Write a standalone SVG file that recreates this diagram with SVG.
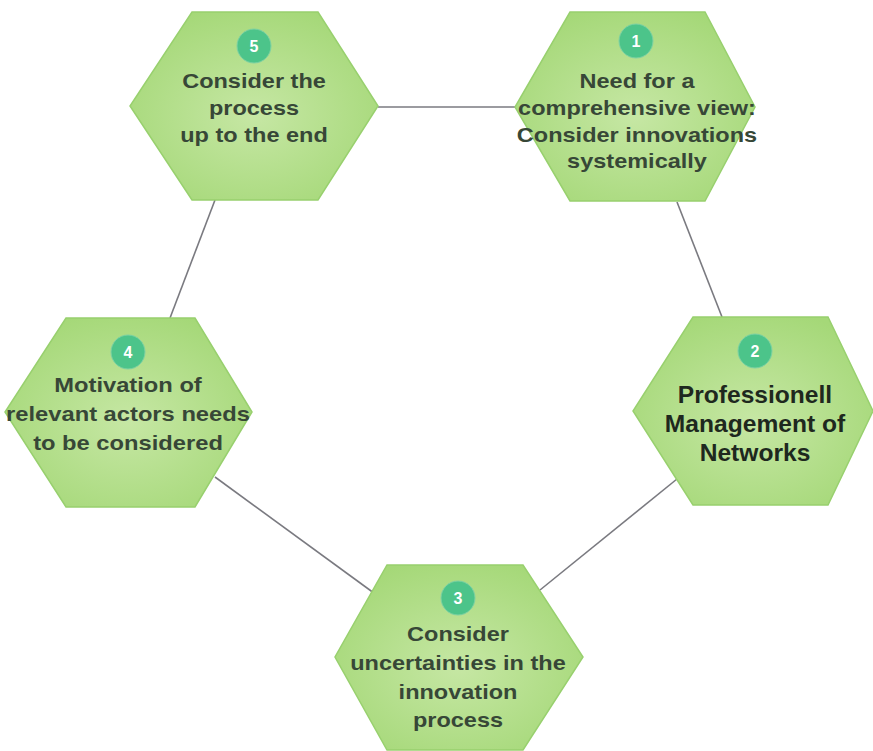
<svg xmlns="http://www.w3.org/2000/svg" width="873" height="751" viewBox="0 0 873 751">
  <defs>
    <radialGradient id="hexFill" cx="50%" cy="55%" r="60%">
      <stop offset="0" stop-color="#c6e7a4"/>
      <stop offset="1" stop-color="#a5d878"/>
    </radialGradient>
    <style>
      .hex { fill: url(#hexFill); stroke: #98d06e; stroke-width: 1.5; }
      .badge { fill: #4cc48a; stroke: #7ed2a4; stroke-width: 1; }
      .num { font-family: "Liberation Sans", Arial, sans-serif; font-size: 16px; font-weight: bold; fill: #ffffff; text-anchor: middle; }
      .lbl { font-family: "Liberation Sans", Arial, sans-serif; font-size: 21px; font-weight: bold; fill: #374737; text-anchor: middle; }
      .lbl2 { font-family: "Liberation Sans", Arial, sans-serif; font-size: 23px; font-weight: bold; fill: #1e281e; text-anchor: middle; }
      .link { stroke: #7a7a80; stroke-width: 1.6; fill: none; }
    </style>
  </defs>
  <rect width="873" height="751" fill="#ffffff"/>

  <!-- connectors between the five steps -->
  <g id="connectors">
    <line class="link" x1="378" y1="107" x2="515" y2="107"/>
    <line class="link" x1="677" y1="202" x2="722" y2="317"/>
    <line class="link" x1="677" y1="479" x2="540" y2="590"/>
    <line class="link" x1="378" y1="596" x2="215" y2="477"/>
    <line class="link" x1="170" y1="318" x2="215" y2="200"/>
  </g>

  <!-- step 5 -->
  <g id="node5">
    <polygon class="hex" points="192,12 318,12 378,106 318,200 192,200 130,106"/>
    <circle class="badge" cx="254" cy="46" r="17"/>
    <text class="num" x="254" y="52">5</text>
    <g transform="translate(254 0) scale(1.12 1)">
      <text class="lbl" x="0" y="88">Consider the</text>
      <text class="lbl" x="0" y="115">process</text>
      <text class="lbl" x="0" y="142">up to the end</text>
    </g>
  </g>

  <!-- step 1 -->
  <g id="node1">
    <polygon class="hex" points="570,12 705,12 755,107 705,201 570,201 515,107"/>
    <circle class="badge" cx="636" cy="41" r="17"/>
    <text class="num" x="636" y="47">1</text>
    <g transform="translate(637 0) scale(1.12 1)">
      <text class="lbl" x="0" y="88">Need for a</text>
      <text class="lbl" x="0" y="115">comprehensive view:</text>
      <text class="lbl" x="0" y="142">Consider innovations</text>
      <text class="lbl" x="0" y="168">systemically</text>
    </g>
  </g>

  <!-- step 2 -->
  <g id="node2">
    <polygon class="hex" points="693,317 828,317 873,411 828,505 693,505 633,411"/>
    <circle class="badge" cx="755" cy="351" r="17"/>
    <text class="num" x="755" y="357">2</text>
    <g transform="translate(755 0) scale(1.07 1)">
      <text class="lbl2" x="0" y="403">Professionell</text>
      <text class="lbl2" x="0" y="432">Management of</text>
      <text class="lbl2" x="0" y="461">Networks</text>
    </g>
  </g>

  <!-- step 4 -->
  <g id="node4">
    <polygon class="hex" points="66,318 195,318 252,412 195,507 66,507 5,412"/>
    <circle class="badge" cx="128" cy="352" r="17"/>
    <text class="num" x="128" y="358">4</text>
    <g transform="translate(128 0) scale(1.13 1)">
      <text class="lbl" x="0" y="392">Motivation of</text>
      <text class="lbl" x="0" y="421">relevant actors needs</text>
      <text class="lbl" x="0" y="450">to be considered</text>
    </g>
  </g>

  <!-- step 3 -->
  <g id="node3">
    <polygon class="hex" points="387,565 523,565 583,657 523,750 387,750 335,657"/>
    <circle class="badge" cx="458" cy="598" r="17"/>
    <text class="num" x="458" y="604">3</text>
    <g transform="translate(458 0) scale(1.12 1)">
      <text class="lbl" x="0" y="641">Consider</text>
      <text class="lbl" x="0" y="670">uncertainties in the</text>
      <text class="lbl" x="0" y="699">innovation</text>
      <text class="lbl" x="0" y="727">process</text>
    </g>
  </g>
</svg>
